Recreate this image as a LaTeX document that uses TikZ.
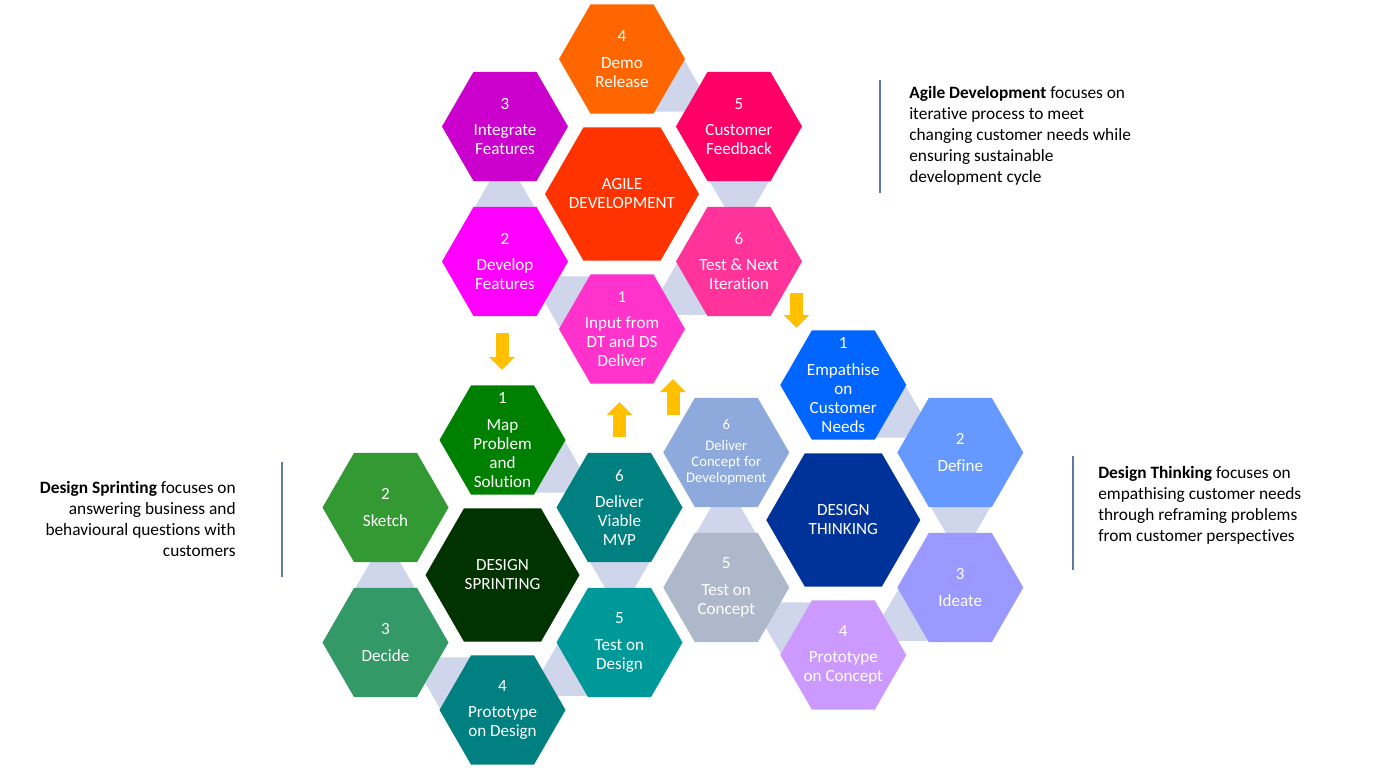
\documentclass[tikz,border=0pt]{standalone}
\usepackage{fontspec}
\setmainfont{Carlito}[Ligatures=NoCommon]
\usetikzlibrary{arrows.meta}

\definecolor{agcore}{HTML}{FF3300}
\definecolor{agone}{HTML}{FF33CC}
\definecolor{agtwo}{HTML}{FF00FF}
\definecolor{agthree}{HTML}{CC00CC}
\definecolor{agfour}{HTML}{FF6600}
\definecolor{agfive}{HTML}{FF0066}
\definecolor{agsix}{HTML}{FF3399}
\definecolor{dscore}{HTML}{003300}
\definecolor{dsone}{HTML}{008000}
\definecolor{dstwo}{HTML}{339933}
\definecolor{dsthree}{HTML}{339966}
\definecolor{dsfour}{HTML}{008080}
\definecolor{dsfive}{HTML}{009999}
\definecolor{dssix}{HTML}{008080}
\definecolor{dtcore}{HTML}{003399}
\definecolor{dtone}{HTML}{0066FF}
\definecolor{dttwo}{HTML}{6699FF}
\definecolor{dtthree}{HTML}{9999FF}
\definecolor{dtfour}{HTML}{CC99FF}
\definecolor{dtfive}{HTML}{ADB9CA}
\definecolor{dtsix}{HTML}{8EA9DB}
\definecolor{linkgrey}{HTML}{CFD5EA}
\definecolor{arrowgold}{HTML}{FFC000}
\definecolor{rulecol}{HTML}{5B7BA6}

\tikzset{
  pics/hexagon/.style 2 args={code={%
    \fill[#2] (0:#1) -- (60:#1) -- (120:#1) -- (180:#1) -- (240:#1) -- (300:#1) -- cycle;}},
  hexlabel/.style={text=white, align=center, inner sep=0pt, font=\fontsize{12.8}{14.25}\selectfont},
  smalllabel/.style={text=white, align=center, inner sep=0pt, font=\fontsize{11}{12}\selectfont},
  sidetext/.style={text=black, inner sep=0pt, font=\fontsize{13}{15.75}\selectfont},
  flowarrow/.style={draw=arrowgold, line width=9.75pt, -{Triangle[width=18.75pt,length=9.75pt]}},
  sideline/.style={draw=rulecol, line width=0.9pt},
}

% outer hexagon of a cycle: name, centre, colour, number, text
\newcommand{\stephex}[5]{%
  \pic at #2 {hexagon={63}{#3}};
  \node[hexlabel] (#1) at #2 {#4\\[5.5pt]#5};}
% central hexagon: name, centre, colour, text
\newcommand{\corehex}[4]{%
  \pic at #2 {hexagon={77}{#3}};
  \node[hexlabel] (#1) at #2 {#4};}
% five linking hexagons lying behind a cycle centred at #1
\newcommand{\links}[1]{%
  \begin{scope}[shift={#1}]
    \foreach \a in {-66,-6,54,114,174} \pic at (\a:118) {hexagon={29.4}{linkgrey}};
  \end{scope}}

\begin{document}
\begin{tikzpicture}[x=0.75pt, y=-0.75pt]
\useasboundingbox (0,0) rectangle (1391,782);
\fill[white] (0,0) rectangle (1391,782);

% linking pieces
\links{(622,194)}
\links{(502.5,575)}
\links{(843.3,520)}

% Agile development cycle
\stephex{ag1}{(622,329)}{agone}{1}{Input from\\DT and DS\\Deliver}
\stephex{ag2}{(505,261.5)}{agtwo}{2}{Develop\\Features}
\stephex{ag3}{(505,126.5)}{agthree}{3}{Integrate\\Features}
\stephex{ag4}{(622,59)}{agfour}{4}{Demo\\Release}
\stephex{ag5}{(739,126.5)}{agfive}{5}{Customer\\Feedback}
\stephex{ag6}{(739,261.5)}{agsix}{6}{Test \& Next\\Iteration}
\corehex{agc}{(622,194)}{agcore}{AGILE\\DEVELOPMENT}

% Design sprinting cycle
\stephex{ds1}{(502.5,440)}{dsone}{1}{Map\\Problem\\and\\Solution}
\stephex{ds2}{(385.5,507.5)}{dstwo}{2}{Sketch}
\stephex{ds3}{(385.5,642.5)}{dsthree}{3}{Decide}
\stephex{ds4}{(502.5,710)}{dsfour}{4}{Prototype\\on Design}
\stephex{ds5}{(619.5,642.5)}{dsfive}{5}{Test on\\Design}
\stephex{ds6}{(619.5,507.5)}{dssix}{6}{Deliver\\Viable\\MVP}
\corehex{dsc}{(502.5,575)}{dscore}{DESIGN\\SPRINTING}

% Design thinking cycle
\stephex{dt1}{(843.3,385)}{dtone}{1}{Empathise\\on\\Customer\\Needs}
\stephex{dt2}{(960.3,452.5)}{dttwo}{2}{Define}
\stephex{dt3}{(960.3,587.5)}{dtthree}{3}{Ideate}
\stephex{dt4}{(843.3,655)}{dtfour}{4}{Prototype\\on Concept}
\stephex{dt5}{(726.3,587.5)}{dtfive}{5}{Test on\\Concept}
\pic at (726.3,452.5) {hexagon={63}{dtsix}};
\node[smalllabel] (dt6) at (726.3,452.5) {6\\[4pt]Deliver\\Concept for\\Development};
\corehex{dtc}{(843.3,520)}{dtcore}{DESIGN\\THINKING}

% hand-over arrows between the cycles
\coordinate (h1s) at (502,333);   \coordinate (h1e) at (502,370);
\coordinate (h2s) at (796.5,293); \coordinate (h2e) at (796.5,328);
\coordinate (h3s) at (619.5,437); \coordinate (h3e) at (619.5,402);
\coordinate (h4s) at (673,415);   \coordinate (h4e) at (673,379);
\draw[flowarrow] (h1s) -- (h1e);
\draw[flowarrow] (h2s) -- (h2e);
\draw[flowarrow] (h3s) -- (h3e);
\draw[flowarrow] (h4s) -- (h4e);

% descriptions
\coordinate (r1a) at (880,80);  \coordinate (r1b) at (880,193);
\draw[sideline] (r1a) -- (r1b);
\node[sidetext, anchor=north west, align=left] (agtxt) at (909,86)
  {\textbf{Agile Development} focuses on\\iterative process to meet\\changing customer needs while\\ensuring sustainable\\development cycle};
\coordinate (r2a) at (282,462); \coordinate (r2b) at (282,577);
\draw[sideline] (r2a) -- (r2b);
\node[sidetext, anchor=north east, align=right] (dstxt) at (236,481)
  {\textbf{Design Sprinting} focuses on\\answering business and\\behavioural questions with\\customers};
\coordinate (r3a) at (1073,456); \coordinate (r3b) at (1073,570);
\draw[sideline] (r3a) -- (r3b);
\node[sidetext, anchor=north west, align=left] (dttxt) at (1098,466)
  {\textbf{Design Thinking} focuses on\\empathising customer needs\\through reframing problems\\from customer perspectives};
\end{tikzpicture}
\end{document}
